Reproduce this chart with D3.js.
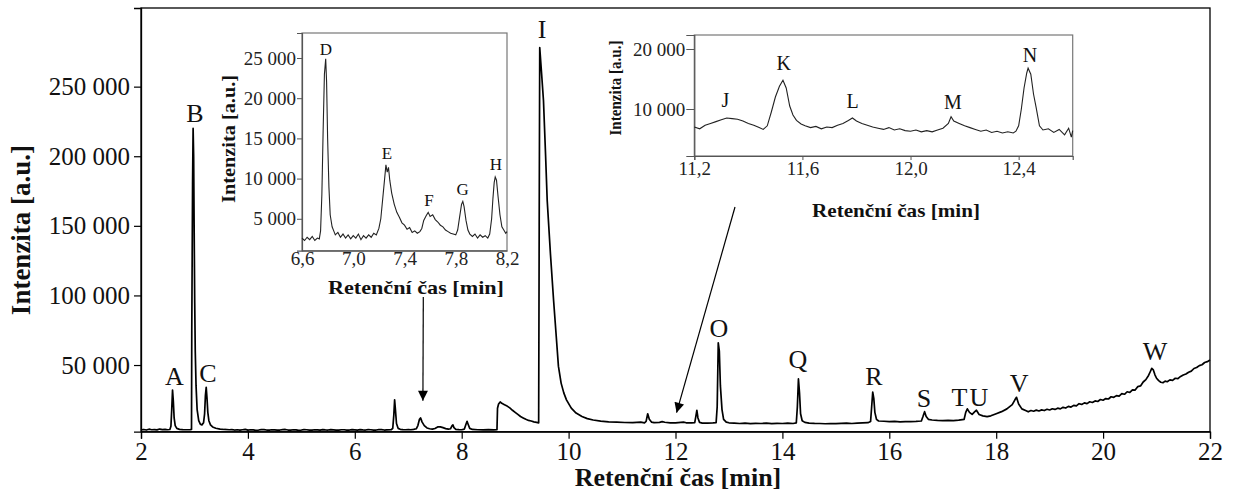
<!DOCTYPE html>
<html><head><meta charset="utf-8">
<script src="https://cdn.jsdelivr.net/npm/d3@7"></script>
<style>
html,body{margin:0;padding:0;background:#fff;}
svg{display:block;font-family:"Liberation Serif","Times New Roman",serif;}
</style></head>
<body>
<svg id="chart" width="1233" height="495"></svg>
<script>
// ---------- DATA ----------
const mainTrace = [
[2.00,3400],[2.05,3700],[2.10,3300],[2.15,3900],[2.20,3500],[2.25,3600],[2.30,3400],[2.35,4000],[2.40,3600],[2.45,3800],[2.50,3500],[2.54,3700],
[2.56,6000],[2.575,18000],[2.59,32000],[2.605,24000],[2.62,12000],[2.64,6500],[2.67,4500],[2.72,3800],[2.78,3600],[2.85,3500],[2.92,3600],[2.945,3700],
[2.950,75000],[2.965,180000],[2.975,220000],[2.985,200000],[2.995,145000],[3.005,95000],[3.015,60000],[3.03,35000],[3.05,18000],[3.08,10000],[3.11,7500],[3.14,7000],[3.17,8500],
[3.19,15000],[3.205,28000],[3.22,34000],[3.235,26000],[3.25,16000],[3.27,10000],[3.30,7000],[3.34,5500],[3.40,4600],[3.48,4000],[3.56,3700],[3.65,3500],
[3.7,3600],[3.75,3300],[3.8,3500],[3.85,3200],[3.9,3500],[3.95,3800],[4.0,3200],[4.05,3500],[4.1,3400],[4.15,3100],[4.2,3300],[4.25,3600],[4.3,3600],[4.35,3300],[4.4,3200],[4.45,3500],
[4.5,3400],[4.55,3200],[4.6,3300],[4.65,3600],[4.7,3700],[4.75,3300],[4.8,3200],[4.85,3500],[4.9,3400],[4.95,3100],[5.0,3300],[5.05,3600],
[5.1,3500],[5.15,3300],[5.2,3200],[5.25,3500],[5.3,3400],[5.35,3200],[5.4,3600],[5.45,3400],[5.5,3300],[5.55,3600],[5.6,3400],[5.65,3200],[5.7,3200],[5.75,3500],
[5.8,3500],[5.85,3300],[5.9,3300],[5.95,3600],[6.0,3400],[6.05,3200],[6.1,3600],[6.15,3400],[6.2,3300],[6.25,3600],[6.3,3500],[6.35,3300],[6.4,3300],[6.45,3600],[6.5,3600],[6.55,3300],[6.6,3400],[6.68,3500],
[6.71,4500],[6.73,14000],[6.745,25000],[6.76,18000],[6.78,8000],[6.81,4500],[6.85,3800],[6.9,3600],[6.95,3500],[7.0,3700],[7.05,3500],[7.1,3800],[7.15,4200],
[7.18,6500],[7.21,11000],[7.23,12000],[7.26,9000],[7.30,6500],[7.35,4800],[7.40,4200],[7.45,3900],[7.5,4400],[7.55,5500],[7.6,5600],[7.65,5000],[7.7,4300],[7.75,3900],[7.79,4200],
[7.82,6500],[7.835,7000],[7.855,5000],[7.89,3800],[7.95,3600],[8.0,3500],[8.05,4000],[8.08,7500],[8.1,9500],[8.12,7500],[8.15,4500],[8.2,3700],[8.3,3500],[8.4,3400],[8.5,3600],[8.6,3400],[8.66,3500],
[8.67,19000],[8.69,22000],[8.72,23500],[8.75,22500],[8.8,21500],[8.85,20500],[8.9,19200],[8.95,17500],[9.0,16000],[9.05,14500],[9.1,13000],[9.15,12000],[9.2,11000],[9.25,10200],[9.3,9800],[9.35,9200],[9.4,8800],[9.44,8500],
[9.45,150000],[9.46,278000],[9.49,262000],[9.53,240000],[9.57,200000],[9.6,168000],[9.66,130000],[9.72,96000],[9.77,70000],[9.81,49000],[9.86,37000],[9.91,30000],[9.96,25000],
[10.05,19000],[10.14,15500],[10.25,13000],[10.35,11500],[10.46,10500],[10.6,9700],[10.75,9200],[10.9,9000],[11.05,8700],[11.2,8600],[11.35,9000],[11.42,8500],
[11.45,9500],[11.48,15000],[11.51,11000],[11.55,9000],[11.6,8600],[11.7,8800],[11.75,9300],[11.8,8900],[11.9,8500],[12.0,8400],[12.1,8800],[12.15,9000],[12.2,8500],[12.3,8400],[12.36,8600],
[12.38,13000],[12.40,17500],[12.42,12000],[12.45,8800],[12.5,8300],[12.6,8200],[12.7,8400],[12.76,8600],
[12.78,20000],[12.80,66000],[12.82,60000],[12.84,35000],[12.87,18000],[12.9,11000],[12.95,9000],[13.0,8500],[13.1,8300],[13.2,8000],[13.3,8200],[13.4,7900],[13.5,8100],[13.6,8000],[13.7,8200],[13.8,7900],[13.9,8100],[14.0,8000],[14.1,8200],[14.2,8000],[14.26,8400],
[14.28,20000],[14.30,40000],[14.32,30000],[14.34,15000],[14.37,10000],[14.42,8800],[14.5,8300],[14.6,8100],[14.7,8000],[14.8,7800],[14.9,8000],[15.0,7900],[15.1,8100],[15.2,8200],[15.3,8000],[15.4,8300],[15.5,8500],[15.6,8600],[15.65,9500],
[15.67,20000],[15.69,30500],[15.71,26000],[15.73,16000],[15.76,11000],[15.8,9800],[15.9,9600],[16.0,9300],[16.1,9500],[16.2,9200],[16.3,9400],[16.4,9300],[16.5,9500],[16.6,9800],
[16.63,13000],[16.66,16500],[16.69,13000],[16.73,11000],[16.8,10500],[16.9,10200],[17.0,10000],[17.1,10300],[17.2,10100],[17.3,10400],[17.4,11000],
[17.43,16000],[17.46,18500],[17.5,16000],[17.55,14500],[17.6,16500],[17.63,17500],[17.68,14500],[17.75,13500],[17.83,12900],[17.9,13500],[18.0,15000],[18.1,16500],[18.2,18500],[18.3,21500],
[18.35,25000],[18.38,26800],[18.42,22000],[18.48,18500],
[18.56,17200],[18.6,16400],[18.65,17300],[18.7,16800],[18.75,17600],[18.8,17000],[18.85,17800],[18.9,17300],[18.95,18200],[19.0,17700],[19.05,18600],[19.1,18100],[19.15,19000],[19.2,18500],
[19.25,19600],[19.3,19100],[19.35,20300],[19.4,19800],[19.45,21000],[19.5,20600],[19.55,22200],[19.6,21700],[19.65,22800],[19.7,22300],[19.75,23600],[19.8,23100],[19.85,24200],[19.9,23800],
[19.95,25200],[20.0,24700],[20.05,25900],[20.1,25600],[20.15,27200],[20.2,26800],[20.25,28000],[20.3,27700],[20.35,29400],[20.4,29000],[20.45,30800],[20.5,30300],[20.55,32200],[20.6,32000],
[20.65,34500],[20.7,35000],[20.75,37800],[20.8,39500],[20.85,42500],[20.88,45000],[20.91,47600],[20.94,46500],[20.97,43000],[21.0,40500],[21.04,38800],[21.08,37600],[21.12,37300],
[21.16,38400],[21.2,38000],[21.25,39300],[21.3,39000],[21.35,40500],[21.4,40200],[21.45,41800],[21.5,42800],[21.55,43500],[21.6,44800],[21.65,45600],[21.7,47500],[21.75,48200],
[21.8,49600],[21.85,50200],[21.9,51800],[21.95,52400],[22.0,53600]
];
const inset1Trace = [
[6.60,2600],[6.62,2300],[6.64,2700],[6.66,2400],[6.68,2800],[6.70,2300],[6.72,2600],[6.735,2500],[6.745,3500],[6.755,8000],[6.765,16000],[6.775,23000],[6.785,24900],[6.792,22000],
[6.80,15000],[6.81,9000],[6.82,5500],[6.835,4000],[6.85,3400],[6.86,3000],[6.88,3300],[6.90,2700],[6.92,3100],[6.94,2600],[6.96,3000],[6.98,2500],[7.00,2900],[7.02,2600],[7.04,3100],
[7.06,2400],[7.08,2900],[7.10,2600],[7.12,3000],[7.14,2700],[7.16,3200],[7.18,3000],[7.20,3800],[7.215,5000],[7.23,7500],[7.245,10000],[7.255,11700],[7.265,10800],[7.275,11400],
[7.285,9800],[7.30,8200],[7.32,6800],[7.34,5800],[7.36,5200],[7.38,4500],[7.40,4200],[7.42,3700],[7.44,3900],[7.46,3300],[7.48,3500],[7.50,3200],[7.52,3400],[7.535,3800],[7.55,4800],
[7.57,5400],[7.585,5800],[7.60,5300],[7.62,5500],[7.64,4900],[7.66,4600],[7.68,4200],[7.70,4000],[7.72,3600],[7.74,3400],[7.76,3200],[7.78,3100],[7.80,3000],[7.815,3600],[7.83,5200],
[7.845,6800],[7.855,7150],[7.865,6500],[7.88,4800],[7.895,3600],[7.91,3100],[7.93,2800],[7.95,3100],[7.97,2600],[7.99,3000],[8.01,2700],[8.03,2900],[8.05,2600],[8.065,3100],[8.08,5000],
[8.09,7500],[8.10,9500],[8.108,10200],[8.118,9800],[8.13,7800],[8.145,5500],[8.16,4000],[8.175,3600],[8.19,3200],[8.20,3400]
];
const inset2Trace = [
[11.20,7000],[11.22,6700],[11.24,7300],[11.26,7600],[11.28,7900],[11.30,8200],[11.32,8500],[11.34,8400],[11.36,8300],[11.38,8000],[11.40,7600],[11.42,7300],[11.44,6900],[11.455,6600],
[11.47,7200],[11.485,9500],[11.50,12000],[11.515,13800],[11.528,14800],[11.54,13500],[11.553,10500],[11.565,9000],[11.578,8100],[11.595,7500],[11.61,7200],[11.63,6900],[11.65,7100],
[11.67,6700],[11.69,7000],[11.71,6900],[11.73,7300],[11.75,7600],[11.77,8100],[11.785,8500],[11.80,8000],[11.82,7600],[11.84,7300],[11.86,7000],[11.88,6800],[11.90,6600],[11.92,6900],
[11.94,6500],[11.96,6700],[11.98,6400],[12.00,6300],[12.02,6500],[12.04,6200],[12.06,6400],[12.08,6200],[12.10,6500],[12.12,6800],[12.14,7600],[12.15,8700],[12.16,8000],[12.18,7600],
[12.20,7200],[12.22,6900],[12.24,6600],[12.26,6300],[12.28,6500],[12.30,6100],[12.32,6300],[12.34,6000],[12.36,6200],[12.38,6000],[12.39,6300],[12.40,7200],[12.41,10000],[12.42,13500],
[12.43,16000],[12.435,16800],[12.445,15800],[12.455,12500],[12.465,10200],[12.477,7200],[12.49,6500],[12.51,6700],[12.53,6100],[12.55,6600],[12.57,5700],[12.585,6800],[12.595,5300],[12.60,6400]
];
const mainLabels = [["A",2.627,35650],["B",3.01,224600],["C",3.253,38020],["I",9.502,284930],["O",12.814,70130],["Q",14.292,48080],["R",15.714,35650],["S",16.649,19630],["T",17.313,20560],["U",17.678,20560],["V",18.427,30840],["W",20.971,53610]];
const inset1Labels = [["D",6.787,25375],["E",7.263,12400],["F",7.591,6590],["G",7.853,7960],["H",8.113,11070]];
const inset2Labels = [["J",11.315,10290],["K",11.531,16500],["L",11.786,10120],["M",12.157,9960],["N",12.442,17890]];
const mainXTicks = [2,4,6,8,10,12,14,16,18,20,22];
const mainYTicks = [50000,100000,150000,200000,250000];
const inset1XTicks = [6.6,7.0,7.4,7.8,8.2];
const inset1YTicks = [5000,10000,15000,20000,25000];
const inset2XTicks = [11.2,11.6,12.0,12.4];
const inset2YTicks = [10000,20000];
const yTitle = "Intenzita [a.u.]";
const xTitle = "Retenční čas [min]";
const arrowTargets = [[7.274, 24370],[12.02, 15750]];

// ---------- DRAW ----------
const loc = d3.formatLocale({decimal:",",thousands:"\u00a0",grouping:[3],currency:["",""]});
const fmtInt = loc.format(",d");
const fmtDec = loc.format(".1f");
const svg = d3.select("#chart");
svg.append("rect").attr("width",1233).attr("height",495).attr("fill","#fff");

// main
const M = {l:141,t:8,r:1210,b:431.7};
const x = d3.scaleLinear().domain([2,22]).range([M.l,M.r]);
const y = d3.scaleLinear().domain([2100,306500]).range([M.b,M.t]);
svg.append("rect").attr("x",M.l).attr("y",M.t).attr("width",M.r-M.l).attr("height",M.b-M.t)
  .attr("fill","none").attr("stroke","#000").attr("stroke-width",1.3);
const gx = svg.append("g").attr("transform",`translate(0,${M.b})`)
  .call(d3.axisBottom(x).tickValues(mainXTicks).tickFormat(d3.format("d")).tickSize(7).tickPadding(4));
const gy = svg.append("g").attr("transform",`translate(${M.l},0)`)
  .call(d3.axisLeft(y).tickValues(mainYTicks).tickFormat(fmtInt).tickSize(7).tickPadding(4));
[gx,gy].forEach(g=>{g.attr("font-family","Liberation Serif");
  g.select(".domain").attr("stroke","#000").attr("stroke-width",1.3);
  g.selectAll(".tick line").attr("stroke","#000").attr("stroke-width",1.2);
  g.selectAll("text").attr("font-family","Liberation Serif").attr("font-size",25).attr("fill","#111");});
svg.append("path").datum(mainTrace).attr("fill","none").attr("stroke","#000").attr("stroke-width",1.7)
  .attr("stroke-linejoin","round").attr("d",d3.line().x(d=>x(d[0])).y(d=>y(d[1])));
svg.selectAll(".mlab").data(mainLabels).enter().append("text")
  .attr("x",d=>x(d[1])).attr("y",d=>y(d[2])).attr("text-anchor","middle")
  .attr("font-size",26).attr("fill","#111").text(d=>d[0]);
svg.append("text").attr("x",678).attr("y",486).attr("text-anchor","middle").attr("font-weight","bold")
  .attr("font-size",26).attr("fill","#111").text(xTitle);
svg.append("text").attr("transform","translate(30,230) rotate(-90)").attr("text-anchor","middle").attr("font-weight","bold")
  .attr("font-size",27).attr("fill","#111").text(yTitle);

// arrow marker
svg.append("defs").append("marker").attr("id","ah").attr("viewBox","0 0 10 10").attr("refX",10).attr("refY",5)
  .attr("markerWidth",11).attr("markerHeight",10).attr("markerUnits","userSpaceOnUse").attr("orient","auto")
  .append("path").attr("d","M0,0 L10,5 L0,10 Z").attr("fill","#000");

function inset(cfg){
  const xs = d3.scaleLinear().domain(cfg.xd).range([cfg.l,cfg.r]);
  const ys = d3.scaleLinear().domain(cfg.yd).range([cfg.b,cfg.t]);
  const g = svg.append("g");
  g.append("rect").attr("x",cfg.l).attr("y",cfg.t).attr("width",cfg.r-cfg.l).attr("height",cfg.b-cfg.t)
    .attr("fill","#fff").attr("stroke","#777").attr("stroke-width",1.2);
  const ax = g.append("g").attr("transform",`translate(0,${cfg.b})`)
    .call(d3.axisBottom(xs).tickValues(cfg.xt).tickFormat(fmtDec).tickSize(cfg.xtick).tickPadding(cfg.xpad));
  const ay = g.append("g").attr("transform",`translate(${cfg.l},0)`)
    .call(d3.axisLeft(ys).tickValues(cfg.yt).tickFormat(fmtInt).tickSize(cfg.ytick).tickPadding(1));
  [ax,ay].forEach(a=>{a.attr("font-family","Liberation Serif");
    a.select(".domain").attr("stroke","#555").attr("stroke-width",1.2);
    a.selectAll(".tick line").attr("stroke","#555");
    a.selectAll("text").attr("font-family","Liberation Serif").attr("font-size",cfg.tfs).attr("fill","#222");});
  g.append("path").datum(cfg.data).attr("fill","none").attr("stroke","#222").attr("stroke-width",1.1)
    .attr("d",d3.line().x(d=>xs(d[0])).y(d=>ys(d[1])));
  g.selectAll(".il").data(cfg.labels).enter().append("text").attr("x",d=>xs(d[1])).attr("y",d=>ys(d[2]))
    .attr("text-anchor","middle").attr("font-size",cfg.lfs).attr("fill","#111").text(d=>d[0]);
  g.append("text").attr("x",cfg.xlx).attr("y",cfg.xly).attr("text-anchor","middle").attr("font-weight","bold")
    .attr("font-size",cfg.xfs).attr("textLength",cfg.xlen).attr("lengthAdjust","spacingAndGlyphs").attr("fill","#111").text(xTitle);
  g.append("text").attr("transform",`translate(${cfg.ylx},${cfg.yly}) rotate(-90)`).attr("text-anchor","middle").attr("font-weight","bold")
    .attr("font-size",cfg.yfs).attr("textLength",cfg.ylen).attr("lengthAdjust","spacingAndGlyphs").attr("fill","#111").text(yTitle);
}
inset({l:302,r:507,t:33,b:250.7,xd:[6.6,8.2],yd:[1030,28110],xt:inset1XTicks,yt:inset1YTicks,xtick:0,xpad:1,ytick:5,tfs:19,
  data:inset1Trace,labels:inset1Labels,lfs:17,xlx:416,xly:294,xfs:19,xlen:176,ylx:235,yly:139,yfs:19,ylen:128});
inset({l:694.3,r:1072.7,t:35,b:156,xd:[11.2,12.6],yd:[2170,22330],xt:inset2XTicks,yt:inset2YTicks,xtick:4,xpad:2,ytick:8,tfs:19,
  data:inset2Trace,labels:inset2Labels,lfs:20,xlx:896,xly:217,xfs:19,xlen:168,ylx:621,yly:88,yfs:16,ylen:95});

// arrows
svg.append("line").attr("x1",423.3).attr("y1",297).attr("x2",x(arrowTargets[0][0])).attr("y2",y(arrowTargets[0][1]))
  .attr("stroke","#000").attr("stroke-width",1.2).attr("marker-end","url(#ah)");
svg.append("line").attr("x1",735).attr("y1",207).attr("x2",x(arrowTargets[1][0])).attr("y2",y(arrowTargets[1][1]))
  .attr("stroke","#000").attr("stroke-width",1.2).attr("marker-end","url(#ah)");
</script>
</body></html>
